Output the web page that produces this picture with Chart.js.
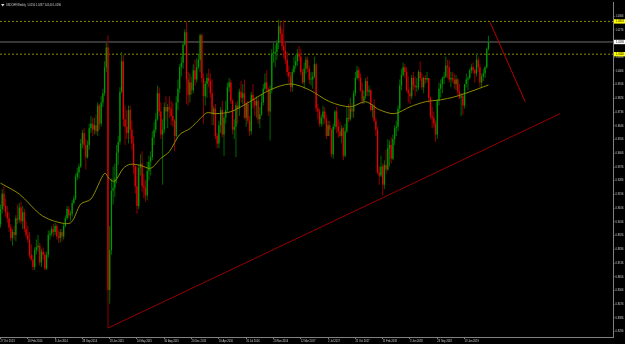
<!DOCTYPE html>
<html><head><meta charset="utf-8">
<script src="https://cdn.jsdelivr.net/npm/chart.js@4.4.1/dist/chart.umd.min.js"></script>
<style>html,body{margin:0;padding:0;background:#000;overflow:hidden}canvas{display:block}</style>
</head><body>
<canvas id="c" width="625" height="344"></canvas>
<script>
const titleText = "USDCHF,Weekly  1.0150 1.0237 1.0140 1.0196";

const opens = [
.9000,.9100,.9200,.9120,.9080,.9040,.8980,.8910,.8950,.8930,
.9040,.9030,.9110,.9020,.9080,.8970,.8930,.8900,.8800,.8770,
.8720,.8830,.8850,.8860,.8750,.8820,.8800,.8710,.8800,.8930,
.8940,.8970,.8950,.8990,.8920,.8910,.8950,.8920,.8990,.9040,
.9100,.9060,.9070,.9140,.9170,.9310,.9340,.9380,.9530,.9600,
.9520,.9440,.9520,.9630,.9660,.9620,.9650,.9610,.9780,.9660,
.9800,.9860,1.0030,1.0160,.8570,.8830,.9220,.9240,.9300,.9470,
.9540,.9870,1.0070,.9690,.9640,.9600,.9750,.9620,.9530,.9380,
.9250,.9120,.9370,.9400,.9250,.9240,.9190,.9350,.9410,.9440,
.9570,.9620,.9690,.9860,.9740,.9590,.9620,.9770,.9740,.9770,
.9760,.9710,.9680,.9580,.9800,.9890,1.0030,1.0060,1.0180,1.0260,
.9950,.9850,.9930,.9880,1.0010,.9950,1.0030,1.0080,1.0240,.9960,
.9840,.9920,.9960,.9940,.9860,.9720,.9760,.9580,.9530,.9650,
.9750,.9590,.9700,.9750,.9900,.9930,.9810,.9620,.9640,.9780,
.9760,.9870,.9830,.9860,.9700,.9790,.9680,.9610,.9850,.9810,
.9780,.9810,.9690,.9720,.9800,.9890,.9930,.9890,.9740,.9880,
1.0120,1.0120,1.0130,1.0190,1.0300,1.0250,1.0170,1.0140,1.0080,1.0000,
.9970,.9900,1.0000,1.0040,1.0070,1.0120,1.0100,1.0000,.9930,1.0020,
1.0080,1.0020,.9950,.9950,.9970,1.0050,.9760,.9740,.9660,.9700,
.9740,.9690,.9580,.9650,.9620,.9460,.9640,.9740,.9640,.9610,
.9580,.9630,.9450,.9610,.9700,.9690,.9760,.9740,.9860,.9960,
1.0010,.9960,.9880,.9810,.9840,.9940,.9870,.9880,.9750,.9780,
.9680,.9620,.9340,.9320,.9380,.9260,.9390,.9360,.9500,.9520,
.9430,.9560,.9630,.9640,.9760,.9910,.9980,1.0030,1.0000,.9880,
.9860,.9840,.9960,.9910,.9900,.9900,1.0000,.9960,.9900,.9960,
.9950,.9960,.9830,.9710,.9700,.9660,.9590,.9810,.9890,.9920,
.9960,.9970,1.0040,1.0030,.9950,.9960,.9950,.9920,.9950,.9870,
.9830,.9840,.9780,.9920,.9950,.9960,1.0010,1.0030,1.0010,.9990,
1.0080,1.0030,.9930,.9970,.9990,1.0030,1.0150];

const highs = [
.9130,.9230,.9250,.9170,.9120,.9080,.9000,.8970,.8990,.9060,
.9130,.9140,.9150,.9120,.9100,.9020,.8990,.8950,.8870,.8800,
.8850,.8900,.8930,.8880,.8840,.8850,.8820,.8820,.8960,.8960,
.8990,.9000,.9010,.9000,.8960,.8970,.8970,.9010,.9060,.9120,
.9120,.9090,.9160,.9190,.9330,.9370,.9400,.9560,.9620,.9630,
.9560,.9550,.9660,.9710,.9700,.9700,.9720,.9800,.9790,.9840,
.9890,1.0070,1.0190,1.0240,.8990,.9300,.9380,.9400,.9520,.9580,
.9900,1.0130,1.0110,.9780,.9750,.9780,.9780,.9680,.9580,.9390,
.9380,.9390,.9460,.9480,.9330,.9290,.9410,.9450,.9480,.9610,
.9670,.9730,.9910,.9900,.9800,.9690,.9800,.9840,.9790,.9840,
.9810,.9800,.9690,.9840,.9950,1.0050,1.0100,1.0200,1.0280,1.0328,
1.0000,.9990,.9970,1.0050,1.0080,1.0090,1.0120,1.0250,1.0250,.9990,
.9940,.9990,1.0020,.9990,.9950,.9780,.9790,.9600,.9680,.9770,
.9810,.9720,.9810,.9930,.9960,.9950,.9820,.9690,.9800,.9810,
.9890,.9940,.9920,.9950,.9800,.9810,.9710,.9870,.9920,.9830,
.9840,.9830,.9770,.9850,.9920,.9990,1.0010,.9900,.9910,1.0150,
1.0190,1.0180,1.0210,1.0344,1.0330,1.0280,1.0340,1.0200,1.0130,1.0040,
1.0000,1.0020,1.0100,1.0110,1.0150,1.0170,1.0150,1.0020,1.0060,1.0100,
1.0100,1.0040,1.0000,1.0000,1.0100,1.0060,.9790,.9760,.9720,.9780,
.9770,.9720,.9680,.9680,.9630,.9660,.9750,.9770,.9690,.9670,
.9650,.9640,.9660,.9770,.9790,.9830,.9800,.9880,1.0000,1.0040,
1.0030,.9990,.9930,.9880,.9960,.9970,.9910,.9890,.9790,.9820,
.9700,.9640,.9380,.9450,.9400,.9420,.9490,.9560,.9550,.9570,
.9590,.9650,.9680,.9780,.9950,1.0020,1.0060,1.0050,1.0030,.9970,
.9900,.9980,1.0000,.9970,.9960,1.0010,1.0070,.9990,.9970,.9980,
1.0000,.9960,.9840,.9770,.9740,.9680,.9820,.9930,.9950,.9970,
1.0000,1.0100,1.0080,1.0080,1.0000,1.0000,.9990,.9980,.9960,.9920,
.9860,.9860,.9920,.9990,.9970,1.0020,1.0050,1.0060,1.0020,1.0120,
1.0100,1.0050,.9990,1.0020,1.0040,1.0160,1.0237];

const lows = [
.8980,.9070,.9090,.9050,.9010,.8950,.8890,.8860,.8900,.8890,
.9000,.9010,.9000,.8970,.8950,.8910,.8880,.8780,.8760,.8700,
.8700,.8800,.8820,.8730,.8720,.8770,.8700,.8700,.8780,.8900,
.8920,.8920,.8930,.8900,.8880,.8880,.8890,.8900,.8980,.9030,
.9040,.9020,.9050,.9130,.9160,.9290,.9300,.9370,.9500,.9490,
.9360,.9430,.9490,.9600,.9580,.9590,.9590,.9580,.9620,.9640,
.9770,.9840,1.0000,.8320,.8480,.8800,.9130,.9180,.9270,.9390,
.9520,.9860,.9640,.9520,.9560,.9530,.9560,.9490,.9330,.9200,
.9070,.9100,.9320,.9210,.9170,.9150,.9160,.9290,.9320,.9420,
.9520,.9600,.9680,.9710,.9560,.9260,.9600,.9680,.9630,.9700,
.9650,.9640,.9480,.9550,.9750,.9860,.9970,1.0020,1.0170,.9790,
.9780,.9800,.9850,.9860,.9910,.9930,1.0020,1.0000,.9930,.9660,
.9780,.9830,.9900,.9830,.9650,.9650,.9560,.9500,.9500,.9600,
.9570,.9450,.9660,.9730,.9870,.9790,.9590,.9560,.9440,.9660,
.9710,.9800,.9790,.9690,.9640,.9660,.9580,.9590,.9760,.9710,
.9700,.9660,.9630,.9710,.9780,.9880,.9870,.9710,.9550,.9860,
1.0060,1.0030,1.0080,1.0150,1.0200,1.0140,1.0090,1.0050,.9970,.9930,
.9870,.9870,.9990,1.0020,1.0040,1.0070,.9980,.9920,.9890,.9990,
1.0000,.9920,.9910,.9890,.9960,.9740,.9690,.9640,.9640,.9650,
.9660,.9560,.9580,.9580,.9440,.9430,.9620,.9600,.9570,.9570,
.9530,.9420,.9440,.9600,.9670,.9680,.9700,.9700,.9840,.9950,
.9940,.9870,.9790,.9790,.9820,.9840,.9840,.9740,.9700,.9670,
.9580,.9330,.9260,.9310,.9190,.9230,.9330,.9350,.9380,.9400,
.9420,.9520,.9580,.9610,.9740,.9880,.9970,.9960,.9870,.9800,
.9790,.9820,.9880,.9840,.9870,.9880,.9940,.9880,.9860,.9920,
.9930,.9800,.9690,.9630,.9640,.9540,.9560,.9780,.9830,.9860,
.9920,.9960,.9960,.9930,.9900,.9930,.9890,.9880,.9850,.9820,
.9710,.9720,.9760,.9900,.9880,.9950,.9990,.9990,.9930,.9970,
1.0000,.9900,.9900,.9940,.9960,1.0020,1.0140];

const closes = [
.9100,.9200,.9120,.9080,.9040,.8980,.8910,.8950,.8930,.9040,
.9030,.9110,.9020,.9080,.8970,.8930,.8900,.8800,.8770,.8720,
.8830,.8850,.8860,.8750,.8820,.8800,.8710,.8800,.8930,.8940,
.8970,.8950,.8990,.8920,.8910,.8950,.8920,.8990,.9040,.9100,
.9060,.9070,.9140,.9170,.9310,.9340,.9380,.9530,.9600,.9520,
.9440,.9520,.9630,.9660,.9620,.9650,.9610,.9780,.9660,.9800,
.9860,1.0030,1.0160,.8570,.8830,.9220,.9240,.9300,.9470,.9540,
.9870,1.0070,.9690,.9640,.9600,.9750,.9620,.9530,.9380,.9250,
.9120,.9370,.9400,.9250,.9240,.9190,.9350,.9410,.9440,.9570,
.9620,.9690,.9860,.9740,.9590,.9620,.9770,.9740,.9770,.9760,
.9710,.9680,.9580,.9800,.9890,1.0030,1.0060,1.0180,1.0260,.9950,
.9850,.9930,.9880,1.0010,.9950,1.0030,1.0080,1.0240,.9960,.9840,
.9920,.9960,.9940,.9860,.9720,.9760,.9580,.9530,.9650,.9750,
.9590,.9700,.9750,.9900,.9930,.9810,.9620,.9640,.9780,.9760,
.9870,.9830,.9860,.9700,.9790,.9680,.9610,.9850,.9810,.9780,
.9810,.9690,.9720,.9800,.9890,.9930,.9890,.9740,.9880,1.0120,
1.0120,1.0130,1.0190,1.0300,1.0250,1.0170,1.0140,1.0080,1.0000,.9970,
.9900,1.0000,1.0040,1.0070,1.0120,1.0100,1.0000,.9930,1.0020,1.0080,
1.0020,.9950,.9950,.9970,1.0050,.9760,.9740,.9660,.9700,.9740,
.9690,.9580,.9650,.9620,.9460,.9640,.9740,.9640,.9610,.9580,
.9630,.9450,.9610,.9700,.9690,.9760,.9740,.9860,.9960,1.0010,
.9960,.9880,.9810,.9840,.9940,.9870,.9880,.9750,.9780,.9680,
.9620,.9340,.9320,.9380,.9260,.9390,.9360,.9500,.9520,.9430,
.9560,.9630,.9640,.9760,.9910,.9980,1.0030,1.0000,.9880,.9860,
.9840,.9960,.9910,.9900,.9900,1.0000,.9960,.9900,.9960,.9950,
.9960,.9830,.9710,.9700,.9660,.9590,.9810,.9890,.9920,.9960,
.9970,1.0040,1.0030,.9950,.9960,.9950,.9920,.9950,.9870,.9830,
.9840,.9780,.9920,.9950,.9960,1.0010,1.0030,1.0010,.9990,1.0080,
1.0030,.9930,.9970,.9990,1.0030,1.0150,1.0196];

// time axis labels (bar index of each label, 0 = week of 27 Oct 2013)
const xTickBars = [0,16,32,48,64,80,96,112,128,144,160,176,192,208,224,240,256,272];
const xTickLabels = ["27 Oct 2013","16 Feb 2014","8 Jun 2014","28 Sep 2014","18 Jan 2015","10 May 2015",
  "30 Aug 2015","20 Dec 2015","10 Apr 2016","31 Jul 2016","20 Nov 2016","12 Mar 2017","2 Jul 2017",
  "22 Oct 2017","11 Feb 2018","3 Jun 2018","23 Sep 2018","13 Jan 2019"];

// price axis labels
const yTickValues = [1.0366,1.0276,1.0186,1.0096,1.0006,0.9916,0.9826,0.9736,0.9646,0.9556,0.9466,0.9376,
  0.9286,0.9196,0.9106,0.9016,0.8926,0.8836,0.8746,0.8656,0.8566,0.8476,0.8386,0.8296];

// moving average
const maBars =   [0, 11, 23, 31, 41, 47, 53, 61, 64, 67, 72, 76, 82, 88, 94, 99, 105, 111, 117, 121, 126, 135, 146, 158, 170, 181, 193, 205, 214, 222, 231, 240, 249, 258, 266, 275, 286];
const maValues = [0.9270,0.9199,0.9068,0.9023,0.9010,0.9133,0.9166,0.9335,0.9296,0.9283,0.9368,0.9394,0.9387,0.9368,0.9433,0.9478,0.9589,0.9628,0.9693,0.9732,0.9726,0.9739,0.9804,0.9882,0.9921,0.9882,0.9804,0.9771,0.9804,0.9752,0.9726,0.9771,0.9804,0.9817,0.9836,0.9869,0.9914];

// drawn objects
const trendUpBars = [63, 328];
const trendUpValues = [0.8320, 0.9726];
const trendDownBars = [287, 307.5];
const trendDownValues = [1.0324, 0.9804];
const levelValues = [1.0331, 1.0116];
const bidValue = 1.0196;

const X_MIN = -0.3, X_MAX = 359.0;
const Y_MIN = 0.82614, Y_MAX = 1.04546;

const idx = closes.map((_, i) => i);
const bull = idx.map(i => closes[i] >= opens[i]);
const wickData = idx.map(i => ({x: i, y: [lows[i], highs[i]]}));
const bodyData = idx.map(i => ({x: i, y: [Math.min(opens[i], closes[i]), Math.max(opens[i], closes[i])]}));

const FONT = {family: 'Liberation Sans', size: 2.6};

const overlay = {
  id: 'overlay',
  afterDraw(chart) {
    const ctx = chart.ctx, ys = chart.scales.y, ca = chart.chartArea;
    ctx.save();
    ctx.font = '2.6px "Liberation Sans"';
    ctx.textBaseline = 'middle';
    ctx.textAlign = 'left';
    const boxes = levelValues.map(v => [v, '#ffff00']).concat([[bidValue, '#ffffff']]);
    boxes.forEach(([v, col]) => {
      const py = ys.getPixelForValue(v);
      ctx.fillStyle = col;
      ctx.fillRect(ca.right + 1, py - 2.2, chart.width - ca.right - 1, 4.4);
      ctx.fillStyle = '#000';
      ctx.fillText(v.toFixed(4), ca.right + 3, py);
    });
    ctx.fillStyle = '#d8d8d8';
    ctx.beginPath(); ctx.moveTo(1, 4); ctx.lineTo(4.5, 4); ctx.lineTo(2.75, 6.5); ctx.closePath(); ctx.fill();
    ctx.fillText(titleText, 6, 5.2);
    ctx.restore();
  }
};

new Chart(document.getElementById('c'), {
  type: 'bar',
  data: {
    datasets: [
      {type: 'line', data: [{x: X_MIN, y: levelValues[0]}, {x: X_MAX, y: levelValues[0]}],
       borderColor: '#8a8a00', borderWidth: 1, borderDash: [2, 2], pointRadius: 0, order: 9},
      {type: 'line', data: [{x: X_MIN, y: levelValues[1]}, {x: X_MAX, y: levelValues[1]}],
       borderColor: '#8a8a00', borderWidth: 1, borderDash: [2, 2], pointRadius: 0, order: 9},
      {type: 'line', data: [{x: X_MIN, y: bidValue}, {x: X_MAX, y: bidValue}],
       borderColor: '#6e6e6e', borderWidth: 1, pointRadius: 0, order: 9},
      {data: wickData, backgroundColor: idx.map(i => bull[i] ? '#006600' : '#900000'),
       barThickness: 1, grouped: false, inflateAmount: 0, order: 6},
      {data: bodyData, backgroundColor: idx.map(i => bull[i] ? '#009a00' : '#e80000'),
       barThickness: 1.3, minBarLength: 1, grouped: false, inflateAmount: 0, order: 5},
      {type: 'line', data: maBars.map((b, k) => ({x: b, y: maValues[k]})),
       borderColor: '#8e8a00', borderWidth: 1, pointRadius: 0, tension: 0.3, order: 3},
      {type: 'line', data: trendUpBars.map((b, k) => ({x: b, y: trendUpValues[k]})),
       borderColor: '#960000', borderWidth: 1, pointRadius: 0, order: 2},
      {type: 'line', data: trendDownBars.map((b, k) => ({x: b, y: trendDownValues[k]})),
       borderColor: '#b80000', borderWidth: 1, pointRadius: 0, order: 2}
    ]
  },
  options: {
    responsive: false,
    animation: false,
    events: [],
    layout: {padding: 0},
    plugins: {legend: {display: false}, tooltip: {enabled: false}, title: {display: false}},
    scales: {
      x: {
        type: 'linear', position: 'bottom', min: X_MIN, max: X_MAX, offset: false,
        grid: {display: true, drawOnChartArea: false, drawTicks: true, tickLength: 2, color: '#808080', offset: false},
        border: {display: true, color: '#808080', width: 1},
        afterBuildTicks: s => { s.ticks = xTickBars.map(v => ({value: v})); },
        afterFit: s => { s.height = 7; },
        ticks: {
          autoSkip: false, maxRotation: 0, minRotation: 0, align: 'start', padding: 0.5,
          color: '#d0d0d0', font: FONT,
          callback: (v) => { const k = xTickBars.indexOf(v); return k >= 0 ? xTickLabels[k] : ''; }
        }
      },
      y: {
        type: 'linear', position: 'right', min: Y_MIN, max: Y_MAX, beginAtZero: false,
        grid: {display: true, drawOnChartArea: false, drawTicks: true, tickLength: 1.5, color: '#808080'},
        border: {display: true, color: '#808080', width: 1},
        afterBuildTicks: s => { s.ticks = yTickValues.map(v => ({value: v})); },
        afterFit: s => { s.width = 12; },
        ticks: {
          padding: 1, color: '#d0d0d0', font: FONT,
          callback: (v) => Number(v).toFixed(4)
        }
      }
    }
  },
  plugins: [overlay]
});
</script>
</body></html>
